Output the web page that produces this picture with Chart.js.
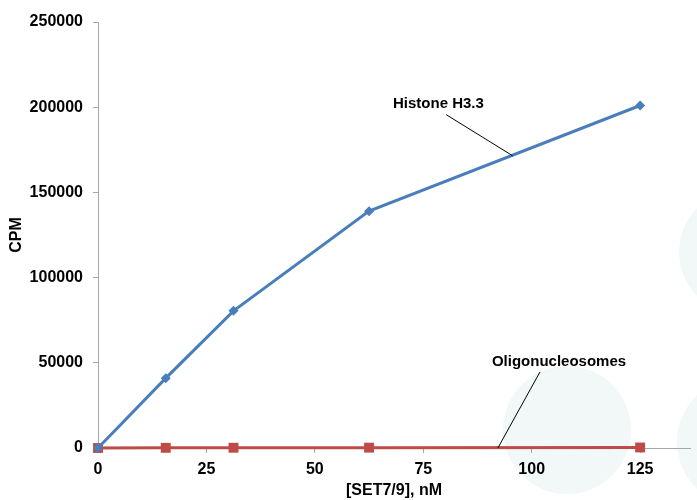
<!DOCTYPE html>
<html>
<head>
<meta charset="utf-8">
<script src="https://cdn.jsdelivr.net/npm/chart.js@4/dist/chart.umd.min.js"></script>
<style>
  html, body { margin: 0; padding: 0; background: #fff; overflow: hidden; }
  canvas { display: block; }
</style>
</head>
<body>
<canvas id="chartCanvas" width="697" height="500"></canvas>
<script>
// SET7/9 concentration (nM)
const concentrations = [0, 15.625, 31.25, 62.5, 125];
const histoneH33 = [0, 41000, 80500, 139000, 201000];
const oligonucleosomes = [0, 100, 150, 200, 300];
const xTicks = [0, 25, 50, 75, 100, 125];
const yTicks = [0, 50000, 100000, 150000, 200000, 250000];

// callout labels: text position and where the leader line touches the series (data units)
const callouts = [
  { text: "Histone H3.3", tx: 78.5, ty: 201800, from: [80.3, 195600], to: [95.6, 171500] },
  { text: "Oligonucleosomes", tx: 106.3, ty: 50500, from: [101.9, 44600], to: [92.2, 0] }
];

const FONT = "'Liberation Sans', Arial, sans-serif";
const BLUE = "#4a7ebb";
const RED = "#be4b48";

// faint background circles seen in the original figure
const bgCircles = {
  id: "bgCircles",
  beforeDraw(chart) {
    const ctx = chart.ctx;
    ctx.save();
    ctx.fillStyle = "#f2f8f8";
    [[567, 430, 64], [742, 252, 63], [742, 442, 65]].forEach(([x, y, r]) => {
      ctx.beginPath();
      ctx.arc(x, y, r, 0, Math.PI * 2);
      ctx.fill();
    });
    ctx.restore();
  }
};

const calloutPlugin = {
  id: "callouts",
  afterDatasetsDraw(chart) {
    const { ctx, scales: { x, y } } = chart;
    ctx.save();
    callouts.forEach(c => {
      ctx.strokeStyle = "#000";
      ctx.lineWidth = 1;
      ctx.beginPath();
      ctx.moveTo(x.getPixelForValue(c.from[0]), y.getPixelForValue(c.from[1]));
      ctx.lineTo(x.getPixelForValue(c.to[0]), y.getPixelForValue(c.to[1]));
      ctx.stroke();
      ctx.fillStyle = "#000";
      ctx.font = "bold 15px " + FONT;
      ctx.textAlign = "center";
      ctx.textBaseline = "middle";
      ctx.fillText(c.text, x.getPixelForValue(c.tx), y.getPixelForValue(c.ty));
    });
    ctx.restore();
  }
};

new Chart(document.getElementById("chartCanvas"), {
  type: "line",
  data: {
    datasets: [
      {
        label: "Histone H3.3",
        data: concentrations.map((c, i) => ({ x: c, y: histoneH33[i] })),
        borderColor: BLUE, backgroundColor: BLUE, borderWidth: 3,
        pointStyle: "rectRot", pointRadius: 5, pointBorderWidth: 0
      },
      {
        label: "Oligonucleosomes",
        data: concentrations.map((c, i) => ({ x: c, y: oligonucleosomes[i] })),
        borderColor: RED, backgroundColor: RED, borderWidth: 3,
        pointStyle: "rect", pointRadius: 7, pointBorderWidth: 0
      }
    ]
  },
  options: {
    responsive: false,
    animation: false,
    clip: false,
    layout: { padding: { top: 22, right: 0, left: 0, bottom: 0 } },
    plugins: { legend: { display: false }, tooltip: { enabled: false } },
    scales: {
      x: {
        type: "linear",
        min: 0, max: 136.5,
        afterBuildTicks: s => { s.ticks = xTicks.map(v => ({ value: v })); },
        afterFit: s => { s.height = 52; },
        border: { color: "#a6a6a6", width: 1 },
        grid: { drawOnChartArea: false, tickLength: 5, color: "#a6a6a6" },
        ticks: { color: "#000", padding: 7, maxRotation: 0, font: { family: FONT, size: 16, weight: "bold" } },
        title: { display: true, text: "[SET7/9], nM", color: "#000", padding: { top: 0, bottom: 0 }, font: { family: FONT, size: 16, weight: "bold" } }
      },
      y: {
        min: 0, max: 250000,
        afterBuildTicks: s => { s.ticks = yTicks.map(v => ({ value: v })); },
        afterFit: s => { s.width = 98; },
        border: { color: "#a6a6a6", width: 1 },
        grid: { drawOnChartArea: false, tickLength: 5, color: "#a6a6a6" },
        ticks: { color: "#000", padding: 10, font: { family: FONT, size: 16, weight: "bold" }, callback: v => String(v) },
        title: { display: true, text: "CPM", color: "#000", padding: { top: 7, bottom: 0 }, font: { family: FONT, size: 16, weight: "bold" } }
      }
    }
  },
  plugins: [bgCircles, calloutPlugin]
});
</script>
</body>
</html>
